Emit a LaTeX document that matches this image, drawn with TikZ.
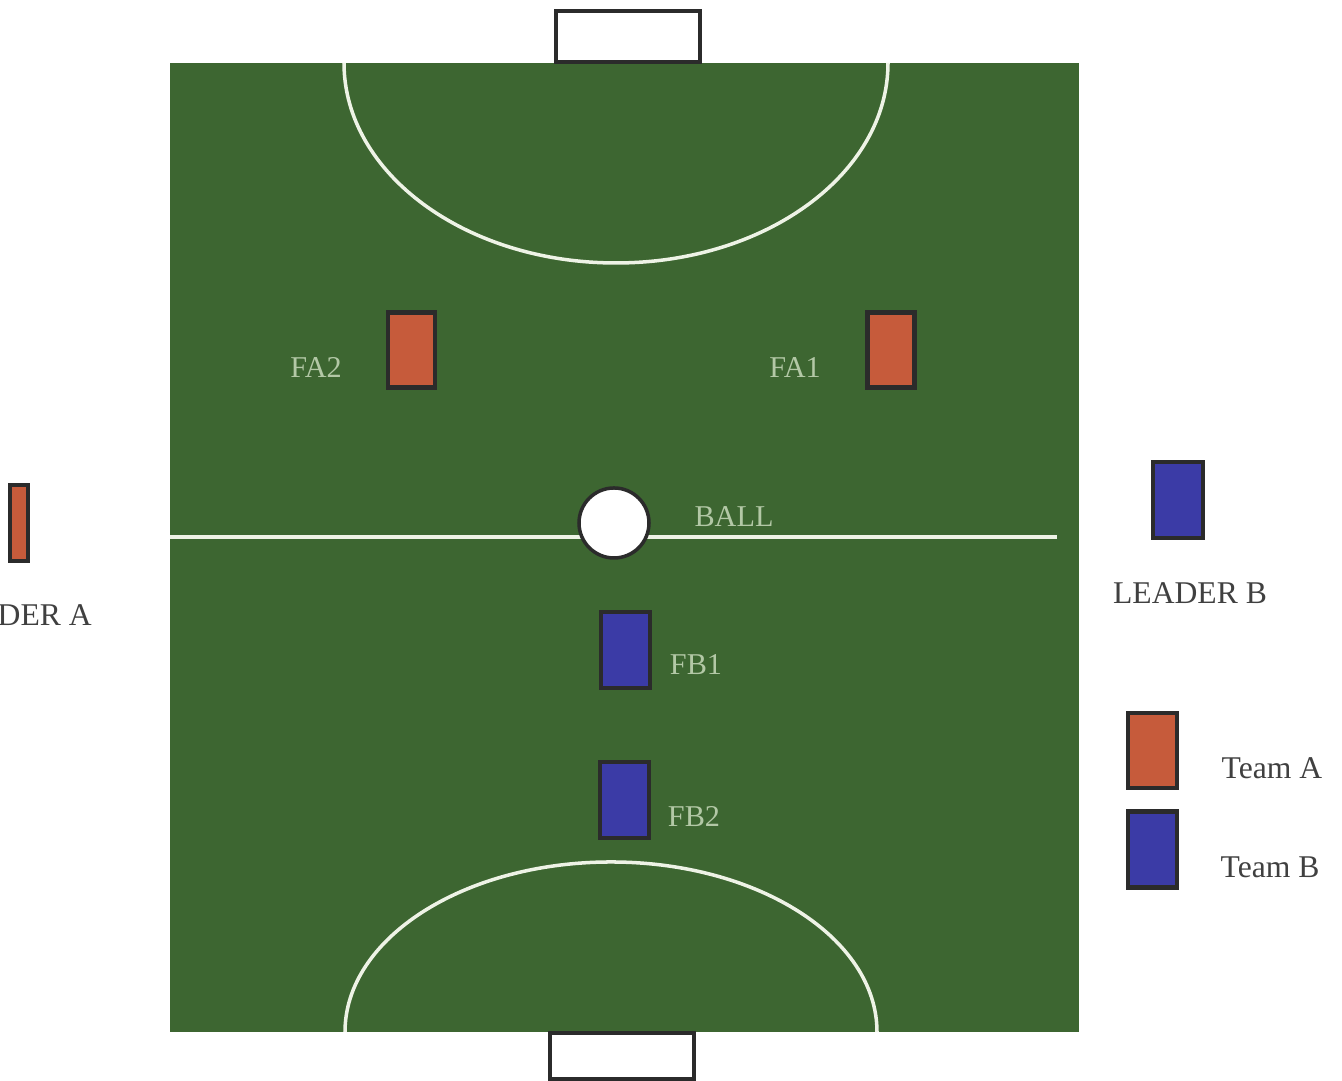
\documentclass[tikz,border=0pt]{standalone}
\usepackage{fontspec}
\setmainfont{Liberation Serif}
\usepackage{tikz}
\definecolor{turf}{HTML}{3D6631}
\definecolor{teamA}{HTML}{C65B3B}
\definecolor{teamB}{HTML}{3B3BA6}
\definecolor{edge}{HTML}{2B2B2B}
\definecolor{chalk}{HTML}{EEF3E6}
\definecolor{tag}{HTML}{B3C8A6}
\tikzset{pa/.style={rectangle,draw=edge,line width=1.2pt,fill=teamA,minimum width=4.7mm,minimum height=7.5mm,inner sep=0pt},
  pb/.style={rectangle,draw=edge,line width=1.2pt,fill=teamB,minimum width=4.9mm,minimum height=7.6mm,inner sep=0pt},
  chalkline/.style={draw=chalk,line width=1pt},
  goal/.style={draw=edge,line width=1.3pt,fill=white},
  fieldtag/.style={text=tag,font=\fontsize{8.6}{10}\selectfont,inner sep=1pt},
  sidetag/.style={text=black!75,font=\fontsize{9}{11}\selectfont,inner sep=1pt}}

\begin{document}
\begin{tikzpicture}
\useasboundingbox (0,0) rectangle (13.42,10.81);
\clip (0,0) rectangle (13.42,10.81);
% pitch
\fill[turf] (1.70,0.49) rectangle (10.79,10.18);
\draw[goal] (5.56,10.19) rectangle (7.00,10.70);
\draw[goal] (5.50,0.02) rectangle (6.94,0.48);
\draw[chalkline] (3.44,10.18) arc[start angle=180,end angle=360,x radius=2.72,y radius=2.00];
\draw[chalkline] (3.45,0.49) arc[start angle=180,end angle=0,x radius=2.66,y radius=1.70];
\draw[chalkline] (1.70,5.44) -- (10.57,5.44);
\node[circle,draw=edge,line width=1pt,fill=white,minimum size=7mm,inner sep=0pt] (ball) at (6.14,5.58) {};
\node[fieldtag] (balltag) at (7.34,5.64) {BALL};
% players on the pitch
\node[pa] (fa2) at (4.115,7.31) {};
\node[pa] (fa1) at (8.91,7.31) {};
\node[pb] (fb1) at (6.255,4.31) {};
\node[pb] (fb2) at (6.245,2.81) {};
\node[fieldtag] (fa2tag) at (3.16,7.13) {FA2};
\node[fieldtag] (fa1tag) at (7.95,7.13) {FA1};
\node[fieldtag] (fb1tag) at (6.96,4.16) {FB1};
\node[fieldtag] (fb2tag) at (6.94,2.64) {FB2};
% leaders
\node[pa,minimum width=1.8mm,minimum height=7.6mm] (leadA) at (0.19,5.58) {};
\node[sidetag] (leadAtag) at (0.14,4.66) {LEADER A};
\node[pb,minimum width=5mm] (leadB) at (11.78,5.81) {};
\node[sidetag] (leadBtag) at (11.90,4.88) {LEADER B};
% legend
\node[pa,minimum width=4.9mm] (keyA) at (11.525,3.305) {};
\node[pb] (keyB) at (11.525,2.315) {};
\node[sidetag] (keyAtag) at (12.72,3.13) {Team A};
\node[sidetag] (keyBtag) at (12.70,2.14) {Team B};
\end{tikzpicture}
\end{document}
